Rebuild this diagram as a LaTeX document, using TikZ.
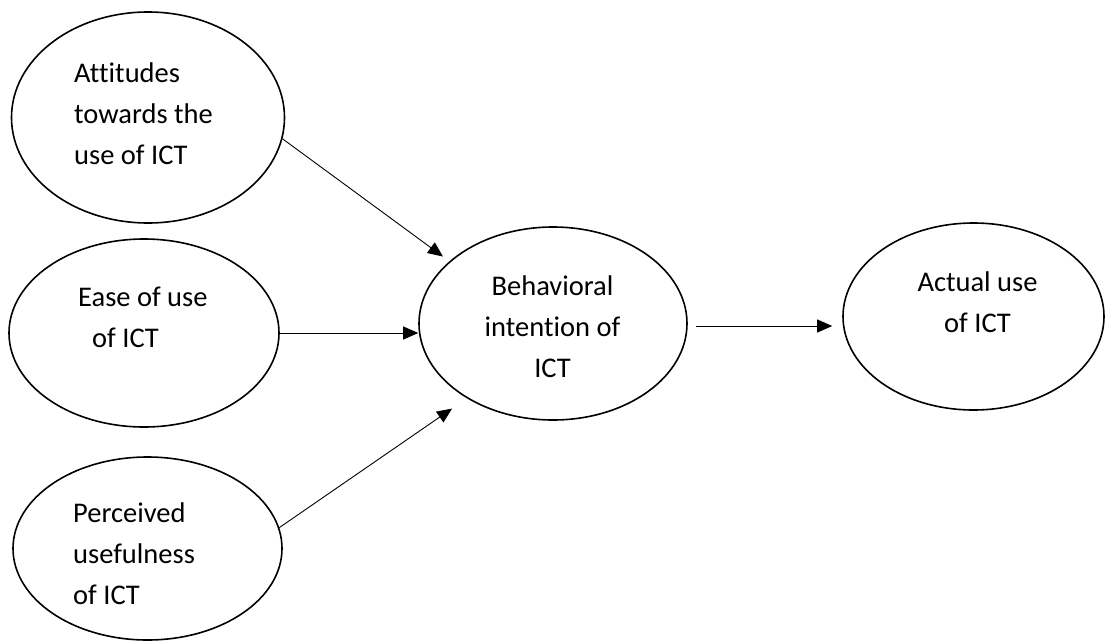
\documentclass[tikz,border=0pt]{standalone}
\usepackage{fontspec}
\setmainfont[Ligatures={NoCommon}]{Carlito}
\usetikzlibrary{arrows.meta, positioning, shapes.geometric}
\begin{document}
\begin{tikzpicture}[x=1pt,y=-1pt]

\tikzset{construct/.style = {shape=ellipse,draw,line width=1.6pt,inner sep=0pt}}
\tikzset{caption/.style = {font=\fontsize{28.5}{41}\selectfont,inner sep=0pt}}
\tikzset{link/.style = {->,> = {Triangle[length=15pt,width=13pt]},line width=0.9pt}}
\useasboundingbox (0,0) rectangle (1105,643);
% vertices
\node[construct,minimum width=273pt,minimum height=211pt] (att) at (148,117.5) {};
\node[construct,minimum width=270pt,minimum height=188pt] (ease) at (144,333) {};
\node[construct,minimum width=269pt,minimum height=183pt] (per) at (147.5,548.5) {};
\node[construct,minimum width=268pt,minimum height=193pt] (beh) at (553,323.5) {};
\node[construct,minimum width=261pt,minimum height=187pt] (act) at (973.5,316.5) {};
% texts
\node[caption,align=left,anchor=west] (atttext) at (74,114) {Attitudes\\towards the\\use of ICT};
\node[caption,align=left,anchor=west] (easetext) at (78,317) {Ease of use\\\hspace*{14pt}of ICT};
\node[caption,align=left,anchor=west] (pertext) at (73,553.5) {Perceived\\usefulness\\of ICT};
\node[caption,align=center] (behtext) at (552.5,326.5) {Behavioral\\intention of\\ICT};
\node[caption,align=center] (acttext) at (977.5,302) {Actual use\\of ICT};
%edges
\path (att.-9) edge[link,shorten >=8pt] (beh.149.5);
\path (ease.east) edge[link] (ease.east -| beh.west);
\path (per.9) edge[link,shorten >=18pt] (beh.221);
\path ([yshift=-2.5pt]beh.east) edge[link,shorten <=8pt,shorten >=10pt] ([yshift=-2.5pt]beh.east -| act.west);
\end{tikzpicture}
\end{document}
